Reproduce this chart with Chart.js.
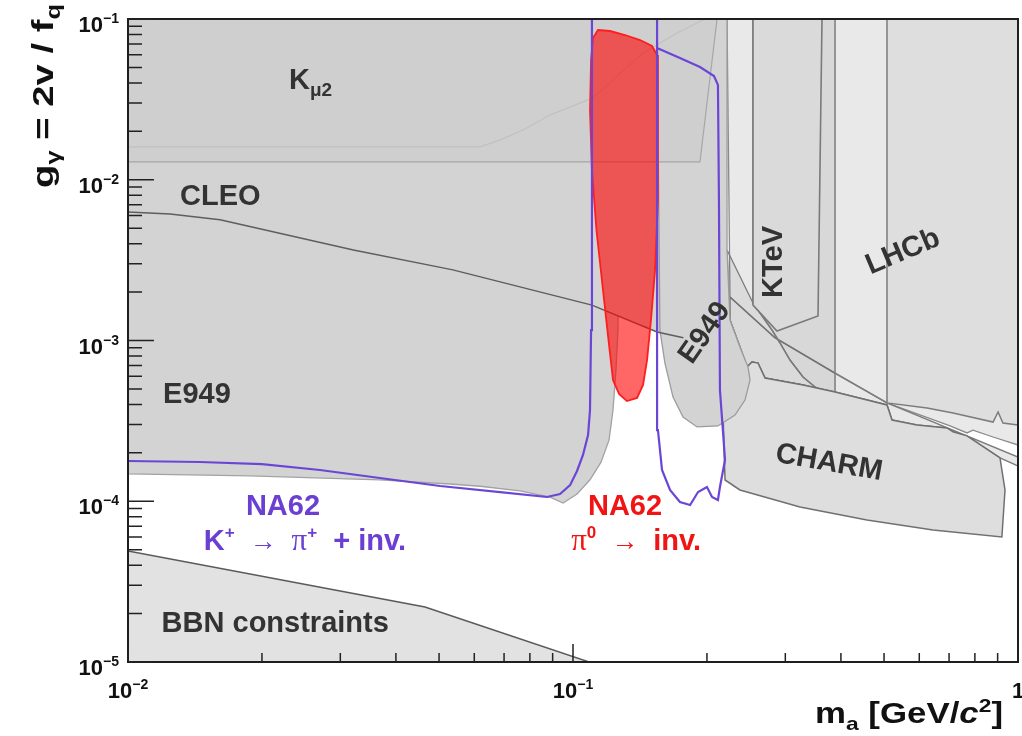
<!DOCTYPE html>
<html>
<head>
<meta charset="utf-8">
<script src="https://cdn.jsdelivr.net/npm/chart.js@4.4.1/dist/chart.umd.min.js"></script>
<style>
  html, body { margin: 0; padding: 0; background: #fff; }
  canvas { display: block; }
</style>
</head>
<body>
<canvas id="plot" width="1022" height="736"></canvas>
<script>
// axis ranges and decade ticks
const xMin = 0.01, xMax = 1, yMin = 1e-5, yMax = 0.1;
const xTicks = [0.01, 0.1, 1];
const yTicks = [1e-5, 1e-4, 1e-3, 1e-2, 1e-1];

// K mu2 band (upper limit of the region, with the older faint contour)
const kmu2X = [0.01, 0.1929, 0.2107];
const kmu2Y = [0.0129, 0.0129, 0.1];
const kmu2OldX = [0.01, 0.0618, 0.0686, 0.0772, 0.0888, 0.1109, 0.1437, 0.1713, 0.1979];
const kmu2OldY = [0.0160, 0.0160, 0.0177, 0.0204, 0.0253, 0.0323, 0.0614, 0.0818, 0.1];

// CLEO lower boundary
const cleoX = [0.01, 0.01243, 0.0161, 0.0321, 0.0537, 0.1103, 0.1545, 0.177];
const cleoY = [6.3e-3, 6.12e-3, 5.63e-3, 3.66e-3, 2.75e-3, 1.66e-3, 1.13e-3, 1.04e-3];

// E949 below the pi0 mass
const e949LowX = [0.01, 0.0188, 0.0368, 0.0529, 0.0618, 0.0760, 0.0888, 0.0950, 0.1021, 0.1092, 0.1156, 0.1205, 0.1230, 0.1249, 0.1262, 0.1275];
const e949LowY = [1.48e-4, 1.44e-4, 1.36e-4, 1.28e-4, 1.24e-4, 1.16e-4, 1.06e-4, 9.75e-5, 1.11e-4, 1.36e-4, 1.75e-4, 2.40e-4, 3.70e-4, 6.55e-4, 1.16e-3, 0.1];

// E949 above the pi0 mass
const e949HighX = [0.1545, 0.1568, 0.1609, 0.1678, 0.1767, 0.1900, 0.2117, 0.2312, 0.2435, 0.2499, 0.2473, 0.2372, 0.2253, 0.2219, 0.2219];
const e949HighY = [0.1, 1.16e-3, 7.24e-4, 4.45e-4, 3.34e-4, 2.90e-4, 2.94e-4, 3.44e-4, 4.26e-4, 5.68e-4, 6.84e-4, 9.11e-4, 1.34e-3, 3.66e-3, 0.1];

// wide light region at high mass
const wideX = [0.2219, 1, 1, 0.879, 0.792, 0.768, 0.7035, 0.5077, 0.3840, 0.2843, 0.2253];
const wideY = [0.1, 0.1, 2.24e-4, 2.51e-4, 2.77e-4, 2.66e-4, 2.94e-4, 4.09e-4, 6.37e-4, 1.04e-3, 1.865e-3];

// strip below the diagonal boundary
const stripX = [0.2253, 0.2843, 0.3840, 0.5077, 1, 1, 0.911, 0.768, 0.7145, 0.6925, 0.5929, 0.5210, 0.5077, 0.388, 0.3288, 0.2701, 0.2604, 0.2525, 0.2460, 0.2372, 0.2253];
const stripY = [1.865e-3, 1.04e-3, 6.37e-4, 4.09e-4, 1.885e-4, 1.657e-4, 1.859e-4, 2.55e-4, 2.70e-4, 2.86e-4, 2.98e-4, 3.20e-4, 3.97e-4, 4.78e-4, 5.29e-4, 5.84e-4, 7.24e-4, 7.35e-4, 6.84e-4, 9.11e-4, 1.34e-3];

// column behind KTeV
const columnX = [0.2538, 0.388, 0.388, 0.3646, 0.3499, 0.3288, 0.3074, 0.2919, 0.2801, 0.2538];
const columnY = [0.1, 0.1, 4.78e-4, 4.78e-4, 5.14e-4, 5.93e-4, 7.56e-4, 9.65e-4, 1.16e-3, 1.711e-3];

// darker wedge between E949 and the column
const wedgeX = [0.2219, 0.2538, 0.2801, 0.2919, 0.3074, 0.3288, 0.3499, 0.3646, 0.3288, 0.2701, 0.2604, 0.2525, 0.2460, 0.2372, 0.2253];
const wedgeY = [3.66e-3, 1.711e-3, 1.16e-3, 9.65e-4, 7.56e-4, 5.93e-4, 5.14e-4, 4.78e-4, 5.29e-4, 5.84e-4, 7.24e-4, 7.35e-4, 6.84e-4, 9.11e-4, 1.34e-3];

// KTeV
const ktevX = [0.2538, 0.2538, 0.2873, 0.3553, 0.3627];
const ktevY = [0.1, 1.66e-3, 1.146e-3, 1.42e-3, 0.1];

// LHCb
const lhcbX = [0.5077, 1, 1, 0.925, 0.902, 0.879, 0.7145, 0.6245, 0.5077];
const lhcbY = [0.1, 0.1, 2.98e-4, 3.07e-4, 3.59e-4, 3.11e-4, 3.54e-4, 3.80e-4, 4.09e-4];

// CHARM
const charmX = [0.2174, 0.2289, 0.2410, 0.2460, 0.2525, 0.2604, 0.2701, 0.3288, 0.388, 0.5077, 0.5210, 0.5929, 0.6925, 0.7145, 0.768, 0.911, 0.935, 0.920, 0.6442, 0.4577, 0.3236, 0.2372, 0.2196];
const charmY = [3.44e-4, 3.97e-4, 4.58e-4, 6.84e-4, 7.35e-4, 7.24e-4, 5.84e-4, 5.29e-4, 4.78e-4, 3.97e-4, 3.20e-4, 2.98e-4, 2.86e-4, 2.70e-4, 2.55e-4, 1.859e-4, 1.175e-4, 5.99e-5, 6.63e-5, 7.64e-5, 9.21e-5, 1.175e-4, 1.356e-4];

// BBN constraints
const bbnX = [0.01, 0.0465, 0.1087, 0.01];
const bbnY = [4.9e-5, 2.2e-5, 1e-5, 1e-5];

// NA62 pi0 -> invisible
const pi0X = [0.1098, 0.1109, 0.1138, 0.1211, 0.1309, 0.1415, 0.1505, 0.1545, 0.1552, 0.1552, 0.1529, 0.1497, 0.1467, 0.1437, 0.1393, 0.1322, 0.1269, 0.1230, 0.1205, 0.1168, 0.1129, 0.1103, 0.1092];
const pi0Y = [0.0556, 0.0762, 0.0854, 0.0842, 0.0795, 0.0740, 0.0679, 0.0597, 0.0235, 7.48e-3, 2.75e-3, 1.34e-3, 7.56e-4, 5.29e-4, 4.39e-4, 4.20e-4, 4.65e-4, 5.68e-4, 9.38e-4, 2.06e-3, 4.87e-3, 0.0115, 0.0272];

// NA62 K+ -> pi+ + inv. (two contours)
const kpiLowX = [0.01, 0.01452, 0.0200, 0.0270, 0.0368, 0.0503, 0.0686, 0.0874, 0.0935, 0.0985, 0.1021, 0.1053, 0.1081, 0.1092, 0.1098, 0.1103];
const kpiLowY = [1.78e-4, 1.754e-4, 1.70e-4, 1.565e-4, 1.395e-4, 1.244e-4, 1.141e-4, 1.063e-4, 1.11e-4, 1.26e-4, 1.543e-4, 1.94e-4, 2.58e-4, 3.70e-4, 1.16e-3, 0.1];
const kpiHighX = [0.1545, 0.1545, 0.1739, 0.1929, 0.2074, 0.2117, 0.2128, 0.2139, 0.2196, 0.2139, 0.2117, 0.2053, 0.2000, 0.1910, 0.1833, 0.1739, 0.1652, 0.1585, 0.1552, 0.1545, 0.1545];
const kpiHighY = [0.1, 0.0660, 0.0572, 0.0503, 0.0442, 0.0389, 7.48e-3, 4.92e-4, 1.805e-4, 1.227e-4, 1.018e-4, 1.063e-4, 1.227e-4, 1.141e-4, 9.48e-5, 9.89e-5, 1.175e-4, 1.565e-4, 2.77e-4, 1.79e-3, 0.0660];

const SANS = '"Liberation Sans", Arial, Helvetica, sans-serif';
const SERIF = '"Liberation Serif", "DejaVu Serif", serif';
const GREY_TEXT = '#333333';
const PURPLE = '#6a3fd2';
const RED = '#f01414';

function pts(xs, ys, close) {
  const p = xs.map((x, i) => ({ x: x, y: ys[i] }));
  if (close) p.push({ x: xs[0], y: ys[0] });
  return p;
}

// layers from back to front
const layers = [
  { data: pts(wideX, wideY, true), fill: '#e9e9e9', line: '#8a8a8a', w: 1.3 },
  { data: pts(stripX, stripY, true), fill: 'rgba(0,0,0,0.09)', line: '#7c7c7c', w: 1.5 },
  { data: pts(columnX, columnY, true), fill: 'rgba(0,0,0,0.07)', line: '#7c7c7c', w: 1.5 },
  { data: pts(wedgeX, wedgeY, true), fill: 'rgba(0,0,0,0.06)', line: '#7c7c7c', w: 1.3 },
  { data: pts(lhcbX, lhcbY, true), fill: '#dedede', line: '#7c7c7c', w: 1.5 },
  { data: pts(ktevX, ktevY, true), fill: '#dadada', line: '#7a7a7a', w: 1.6 },
  { data: pts(charmX, charmY, true), fill: '#dedede', line: '#707070', w: 1.5 },
  { data: pts([0.01].concat(e949LowX, [0.01]), [0.1].concat(e949LowY, [0.1])), fill: '#d3d3d3', line: '#a2a2a2', w: 1.3 },
  { data: pts([0.01].concat(cleoX, [0.177]), [0.1].concat(cleoY, [0.1])), fill: '#d3d3d3' },
  { data: pts(e949HighX, e949HighY), fill: '#d3d3d3', line: '#9c9c9c', w: 1.3 },
  { data: pts(cleoX, cleoY), line: '#5e5e5e', w: 1.5 },
  { data: pts([0.01].concat(kmu2X), [0.1].concat(kmu2Y)), fill: 'rgba(0,0,0,0.015)', line: '#a6a6a6', w: 1.2 },
  { data: pts(kmu2OldX, kmu2OldY), line: 'rgba(0,0,0,0.07)', w: 1.2 },
  { data: pts(bbnX, bbnY, true), fill: '#e2e2e2', line: '#5a5a5a', w: 1.5 },
  { data: pts(pi0X, pi0Y, true), fill: 'rgba(255,0,0,0.6)', line: '#ff1e1e', w: 1.8 },
  { data: pts(kpiLowX, kpiLowY), line: '#6b46d6', w: 2.2 },
  { data: pts(kpiHighX, kpiHighY), line: '#6b46d6', w: 2.2 }
];

const datasets = layers.map((l, i) => ({
  data: l.data,
  showLine: true,
  fill: l.fill ? 'shape' : false,
  backgroundColor: l.fill || 'rgba(0,0,0,0)',
  borderColor: l.line || 'rgba(0,0,0,0)',
  borderWidth: l.line ? l.w : 0,
  pointRadius: 0,
  pointHoverRadius: 0,
  tension: 0,
  order: layers.length - i
}));

function font(size, weight, family, italic) {
  return (italic ? 'italic ' : '') + (weight || 'bold') + ' ' + size + 'px ' + (family || SANS);
}

// text pieces: [text, size, dy, weight, family, italic]
function toRuns(list) {
  return list.map(r => ({ t: r[0], f: font(r[1], r[3], r[4], r[5]), dy: r[2] || 0 }));
}

const regionLabels = [
  { x: 0.0230, y: 0.0367, runs: [['K', 29], ['\u03bc2', 19, 7]] },
  { x: 0.01309, y: 6.97e-3, runs: [['CLEO', 29]] },
  { x: 0.01199, y: 4.09e-4, runs: [['E949', 29]] },
  { x: 0.1979, y: 1.113e-3, rot: -55, mid: true, align: 'center', runs: [['E949', 29]] },
  { x: 0.2829, y: 3.08e-3, rot: -90, mid: true, align: 'center', runs: [['KTeV', 29]] },
  { x: 0.5515, y: 3.55e-3, rot: -23, mid: true, align: 'center', runs: [['LHCb', 29]] },
  { x: 0.3761, y: 1.73e-4, rot: 10, mid: true, align: 'center', runs: [['CHARM', 29]] },
  { x: 0.0119, y: 1.537e-5, runs: [['BBN constraints', 29]] },
  { x: 0.0223, y: 8.21e-5, align: 'center', color: PURPLE, runs: [['NA62', 29]] },
  { x: 0.02498, y: 4.97e-5, align: 'center', color: PURPLE,
    runs: [['K', 29], ['+', 17, -12], ['  \u2192  ', 27, 0, 'normal'], ['\u03c0', 31, 0, 'normal', SERIF], ['+', 17, -12], ['  + inv.', 29]] },
  { x: 0.1309, y: 8.21e-5, align: 'center', color: RED, runs: [['NA62', 29]] },
  { x: 0.1386, y: 4.97e-5, align: 'center', color: RED,
    runs: [['\u03c0', 31, 0, 'normal', SERIF], ['0', 17, -12], ['  \u2192  ', 27, 0, 'normal'], ['inv.', 29]] }
];

function runsWidth(ctx, runs) {
  let w = 0;
  runs.forEach(r => { ctx.font = r.f; w += ctx.measureText(r.t).width; });
  return w;
}

function drawRuns(ctx, runs, x, y, align) {
  const w = runsWidth(ctx, runs);
  let cx = align === 'center' ? x - w / 2 : align === 'right' ? x - w : x;
  runs.forEach(r => {
    ctx.font = r.f;
    ctx.fillText(r.t, cx, y + r.dy);
    cx += ctx.measureText(r.t).width;
  });
}

function tickRuns(v) {
  const e = Math.round(Math.log10(v));
  if (e === 0) return toRuns([['1', 22]]);
  return toRuns([['10', 22], ['\u2212' + Math.abs(e), 14, -9]]);
}

const decor = {
  id: 'decor',
  beforeDraw(chart) {
    const ctx = chart.ctx;
    ctx.save();
    ctx.fillStyle = '#ffffff';
    ctx.fillRect(0, 0, chart.width, chart.height);
    ctx.restore();
  },
  afterDraw(chart) {
    const ctx = chart.ctx;
    const a = chart.chartArea;
    const xs = chart.scales.x, ys = chart.scales.y;
    ctx.save();
    ctx.textAlign = 'left';

    // labels inside the frame
    regionLabels.forEach(l => {
      ctx.save();
      ctx.fillStyle = l.color || GREY_TEXT;
      ctx.textBaseline = l.mid ? 'middle' : 'alphabetic';
      ctx.translate(xs.getPixelForValue(l.x), ys.getPixelForValue(l.y));
      ctx.rotate((l.rot || 0) * Math.PI / 180);
      drawRuns(ctx, toRuns(l.runs), 0, 0, l.align || 'left');
      ctx.restore();
    });

    // frame
    ctx.strokeStyle = '#1e1e1e';
    ctx.lineWidth = 2;
    ctx.strokeRect(a.left, a.top, a.right - a.left, a.bottom - a.top);

    // ticks pointing inwards
    ctx.lineWidth = 1.5;
    ctx.strokeStyle = '#222';
    ctx.beginPath();
    yTicks.forEach(d => {
      const p = ys.getPixelForValue(d);
      ctx.moveTo(a.left, p); ctx.lineTo(a.left + 26, p);
      if (d < yMax) {
        for (let k = 2; k <= 9; k++) {
          const q = ys.getPixelForValue(k * d);
          ctx.moveTo(a.left, q); ctx.lineTo(a.left + 14, q);
        }
      }
    });
    xTicks.forEach(d => {
      const p = xs.getPixelForValue(d);
      ctx.moveTo(p, a.bottom); ctx.lineTo(p, a.bottom - 18);
      if (d < xMax) {
        for (let k = 2; k <= 9; k++) {
          const q = xs.getPixelForValue(k * d);
          ctx.moveTo(q, a.bottom); ctx.lineTo(q, a.bottom - 9);
        }
      }
    });
    ctx.stroke();

    // tick labels
    ctx.fillStyle = '#111';
    ctx.textBaseline = 'alphabetic';
    yTicks.forEach(d => {
      drawRuns(ctx, tickRuns(d), a.left - 9, ys.getPixelForValue(d) + 13, 'right');
    });
    xTicks.forEach(d => {
      drawRuns(ctx, tickRuns(d), xs.getPixelForValue(d), a.bottom + 36, 'center');
    });

    // axis titles
    const yTitle = toRuns([['g', 30], ['\u03b3', 20, 7], [' = 2v / f', 30], ['q', 20, 7]]);
    ctx.save();
    ctx.translate(53, 188);
    ctx.rotate(-Math.PI / 2);
    ctx.scale(184 / runsWidth(ctx, yTitle), 1);
    drawRuns(ctx, yTitle, 0, 0, 'left');
    ctx.restore();

    const xTitle = toRuns([['m', 29], ['a', 19, 7], [' [GeV/', 29], ['c', 29, 0, 'bold', SANS, true], ['2', 19, -11], [']', 29]]);
    ctx.save();
    ctx.translate(815, 723);
    ctx.scale(188 / runsWidth(ctx, xTitle), 1);
    drawRuns(ctx, xTitle, 0, 0, 'left');
    ctx.restore();

    ctx.restore();
  }
};

new Chart(document.getElementById('plot'), {
  type: 'scatter',
  data: { datasets: datasets },
  options: {
    responsive: false,
    animation: false,
    devicePixelRatio: 1,
    events: [],
    layout: { padding: { left: 128, right: 4, top: 19, bottom: 74 } },
    scales: {
      x: {
        type: 'logarithmic', min: xMin, max: xMax,
        grid: { display: false }, border: { display: false }, ticks: { display: false },
        afterFit(s) { s.height = 0; }
      },
      y: {
        type: 'logarithmic', min: yMin, max: yMax,
        grid: { display: false }, border: { display: false }, ticks: { display: false },
        afterFit(s) { s.width = 0; }
      }
    },
    plugins: {
      legend: { display: false },
      tooltip: { enabled: false },
      filler: { propagate: false, drawTime: 'beforeDatasetDraw' }
    }
  },
  plugins: [decor]
});
</script>
</body>
</html>
